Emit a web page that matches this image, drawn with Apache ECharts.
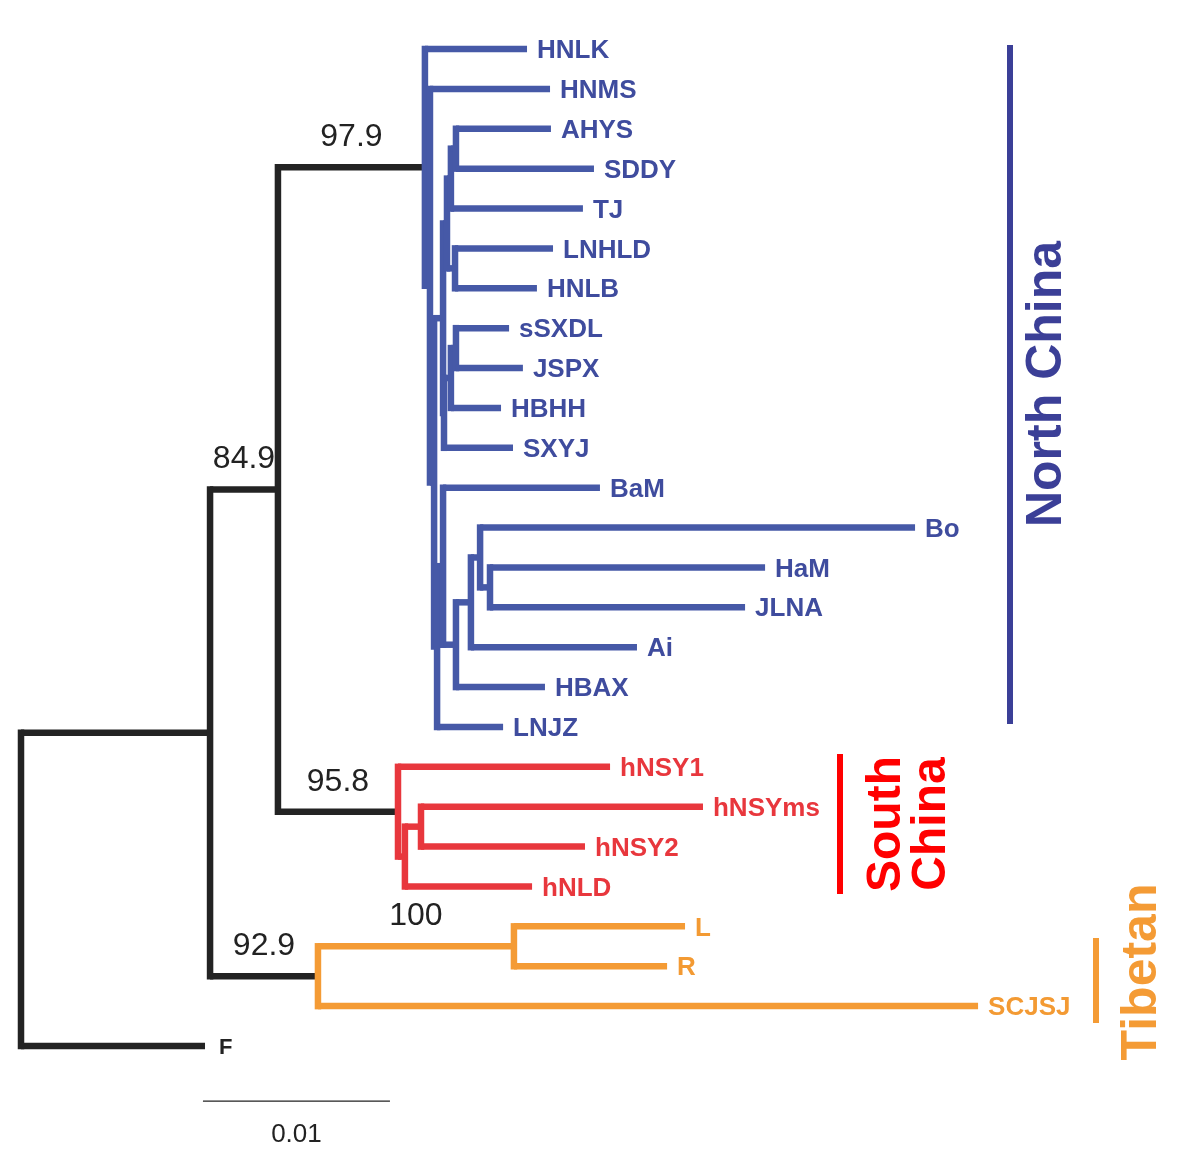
<!DOCTYPE html>
<html><head><meta charset="utf-8">
<script src="https://cdn.jsdelivr.net/npm/echarts/dist/echarts.min.js"></script>
<style>html,body{margin:0;padding:0;background:#fff}#c{width:1200px;height:1168px}</style>
</head><body><div id="c"></div>
<script>
// ---- tips (top to bottom) ----
const leafNames = ['HNLK','HNMS','AHYS','SDDY','TJ','LNHLD','HNLB','sSXDL','JSPX','HBHH','SXYJ','BaM','Bo','HaM','JLNA','Ai','HBAX','LNJZ','hNSY1','hNSYms','hNSY2','hNLD','L','R','SCJSJ','F'];
// cumulative distance from root
const leafDepth = [0.02706,0.02829,0.02834,0.03064,0.03005,0.02845,0.02759,0.02610,0.02684,0.02567,0.02631,0.03096,0.04781,0.03979,0.03872,0.03294,0.02802,0.02578,0.03150,0.03647,0.03016,0.02733,0.03551,0.03455,0.05118,0.00984];
// 0 North China, 1 South China, 2 Tibetan, 3 outgroup
const leafGroup = [0,0,0,0,0,0,0,0,0,0,0,0,0,0,0,0,0,0,1,1,1,1,2,2,2,3];

// ---- internal nodes ----
const nodeNames = ['root','N1','N2','Nnorth','NA','NB','X','N1c','N1b','N1a','N1d','Z','N2b','N2a','Y','V','NE','NF','NG','NH','Nsouth','Ns2','Ns3','Ntib','NLR'];
const nodeDepth = [0,0.01011,0.01374,0.02160,0.02187,0.02209,0.02257,0.02278,0.02299,0.02326,0.02321,0.02262,0.02299,0.02326,0.02225,0.02257,0.02326,0.02406,0.02455,0.02508,0.02016,0.02053,0.02139,0.01588,0.02636];
const nodeChildren = [
  ['N1','F'],['N2','Ntib'],['Nnorth','Nsouth'],['HNLK','NA'],['HNMS','NB'],['X','Y'],['N1c','Z'],
  ['N1b','N1d'],['N1a','TJ'],['AHYS','SDDY'],['LNHLD','HNLB'],['N2b','SXYJ'],['N2a','HBHH'],['sSXDL','JSPX'],
  ['V','LNJZ'],['BaM','NE'],['NF','HBAX'],['NG','Ai'],['Bo','NH'],['HaM','JLNA'],
  ['hNSY1','Ns2'],['Ns3','hNLD'],['hNSYms','hNSY2'],['NLR','SCJSJ'],['L','R']
];

// ---- bootstrap support ----
const bootstrapNodes = ['Nnorth','N2','Nsouth','Ntib','NLR'];
const bootstrapValues = ['97.9','84.9','95.8','92.9','100'];

// ---- scale bar ----
const scaleBarStart = 0.00973;
const scaleBarLength = 0.01;
const scaleBarLabel = '0.01';

// ---- build tree layout ----
const pos = {};
leafNames.forEach((n,i)=>{ pos[n] = {x: leafDepth[i], y: i, g: leafGroup[i]}; });
const nodeIndex = {}; nodeNames.forEach((n,i)=>nodeIndex[n]=i);
const parentOf = {};
nodeChildren.forEach((ch,i)=>ch.forEach(c=>parentOf[c]=nodeNames[i]));
function place(name){
  if (pos[name]) return pos[name];
  const i = nodeIndex[name];
  const kids = nodeChildren[i].map(place);
  const ys = kids.map(k=>k.y);
  const gs = kids.map(k=>k.g);
  const g = gs.every(v=>v===gs[0]) ? gs[0] : 3;
  pos[name] = {x: nodeDepth[i], y: (Math.min(...ys)+Math.max(...ys))/2, g: g, y0: Math.min(...ys), y1: Math.max(...ys)};
  return pos[name];
}
place('root');
const segments = [];
nodeNames.forEach((n,i)=>{
  const p = pos[n];
  segments.push([p.x, p.y0, p.x, p.y1, p.g]);
  nodeChildren[i].forEach(c=>{ segments.push([p.x, pos[c].y, pos[c].x, pos[c].y, p.g]); });
});
const tipData = leafNames.map((n,i)=>[leafDepth[i], i]);
const bootData = bootstrapNodes.map(n=>{ const p = pos[n]; const par = pos[parentOf[n]]; return [(p.x+par.x)/2, p.y]; });

const branchColors = ['#4659a7','#e8373d','#f49b35','#232323'];
const labelColors = ['#3f4c9e','#e8373d','#f39a33','#232323'];
const FONT = '"Liberation Sans", Arial, Helvetica, sans-serif';
const LW = 6.5;

const chart = echarts.init(document.getElementById('c'));
chart.setOption({
  animation: false,
  backgroundColor: '#fff',
  grid: {left: 21, right: 0, top: 49, bottom: 122},
  xAxis: {type: 'value', min: 0, max: 0.063048, show: false},
  yAxis: {type: 'value', min: 0, max: 25, inverse: true, show: false},
  series: [
    {
      type: 'custom', clip: false, data: segments,
      renderItem: function(params, api){
        const p1 = api.coord([api.value(0), api.value(1)]);
        const p2 = api.coord([api.value(2), api.value(3)]);
        const c = branchColors[api.value(4)];
        let s;
        if (Math.abs(p1[0]-p2[0]) < 0.5) {
          s = {x1: p1[0], y1: Math.min(p1[1],p2[1]) - LW/2, x2: p2[0], y2: Math.max(p1[1],p2[1]) + LW/2};
        } else {
          s = {x1: p1[0], y1: p1[1], x2: p2[0], y2: p2[1]};
        }
        return {type: 'line', shape: s, style: {stroke: c, lineWidth: LW}};
      }
    },
    {
      type: 'custom', clip: false, data: tipData,
      renderItem: function(params, api){
        const i = params.dataIndex;
        const p = api.coord([api.value(0), api.value(1)]);
        const isF = leafNames[i] === 'F';
        return {type: 'text', style: {text: leafNames[i], x: p[0] + (isF ? 14 : 10), y: p[1] + 2,
          fill: labelColors[leafGroup[i]], font: 'bold ' + (isF ? 22 : 26) + 'px ' + FONT,
          align: 'left', verticalAlign: 'middle'}};
      }
    },
    {
      type: 'custom', clip: false, data: bootData,
      renderItem: function(params, api){
        const i = params.dataIndex;
        const p = api.coord([api.value(0), api.value(1)]);
        return {type: 'text', style: {text: bootstrapValues[i], x: p[0], y: p[1] - 30,
          fill: '#222', font: '32px ' + FONT, align: 'center', verticalAlign: 'middle'}};
      }
    },
    {
      type: 'custom', clip: false, data: [[scaleBarStart, 26.38, scaleBarStart + scaleBarLength]],
      renderItem: function(params, api){
        const a = api.coord([api.value(0), api.value(1)]);
        const b = api.coord([api.value(2), api.value(1)]);
        return {type: 'group', children: [
          {type: 'line', shape: {x1: a[0], y1: a[1], x2: b[0], y2: b[1]}, style: {stroke: '#222', lineWidth: 1.3}},
          {type: 'text', style: {text: scaleBarLabel, x: (a[0]+b[0])/2, y: a[1] + 34, fill: '#222',
            font: '26px ' + FONT, align: 'center', verticalAlign: 'middle'}}
        ]};
      }
    }
  ],
  graphic: [
    {type: 'rect', shape: {x: 1007, y: 45, width: 6, height: 679}, style: {fill: '#3b3f97'}},
    {type: 'text', x: 1047, y: 384, rotation: Math.PI/2,
      style: {text: 'North China', fill: '#3b3f97', font: 'bold 50px ' + FONT, align: 'center', verticalAlign: 'middle'}},
    {type: 'rect', shape: {x: 837, y: 754, width: 6, height: 140}, style: {fill: '#ff0000'}},
    {type: 'text', x: 909, y: 824, rotation: Math.PI/2,
      style: {text: 'South\nChina', fill: '#ff0000', font: 'bold 48px ' + FONT, lineHeight: 45, align: 'center', verticalAlign: 'middle'}},
    {type: 'rect', shape: {x: 1093, y: 938, width: 6, height: 85}, style: {fill: '#f49b35'}},
    {type: 'text', x: 1142, y: 972, rotation: Math.PI/2,
      style: {text: 'Tibetan', fill: '#f49b35', font: 'bold 50px ' + FONT, align: 'center', verticalAlign: 'middle'}}
  ]
});
</script>
</body></html>
